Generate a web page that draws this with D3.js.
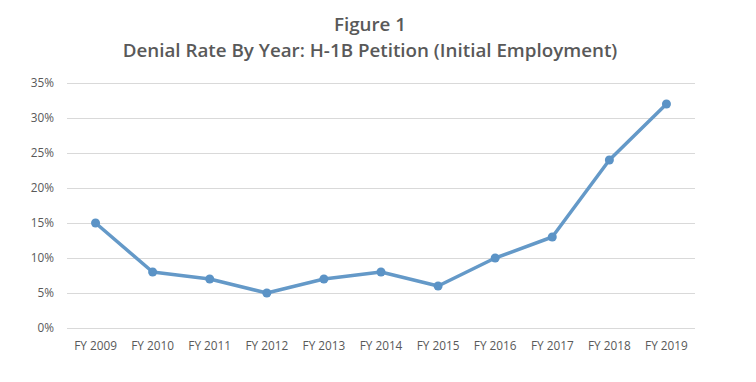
<!DOCTYPE html>
<html>
<head>
<meta charset="utf-8">
<script src="https://cdn.jsdelivr.net/npm/d3@7"></script>
<style>
  body { margin: 0; background: #fff; }
  svg { display: block; }
</style>
</head>
<body>
<svg id="chart" width="756" height="382"></svg>
<script>
const years = ["FY 2009", "FY 2010", "FY 2011", "FY 2012", "FY 2013", "FY 2014",
               "FY 2015", "FY 2016", "FY 2017", "FY 2018", "FY 2019"]
const denialRate = [15, 8, 7, 5, 7, 8, 6, 10, 13, 24, 32]
const yTicks = [0, 5, 10, 15, 20, 25, 30, 35]
const titleLines = ["Figure 1", "Denial Rate By Year: H-1B Petition (Initial Employment)"]

const svg = d3.select("#chart")
const margin = {top: 83, right: 61, bottom: 54, left: 67}
const width = 756, height = 382
const textColor = "#595959"
const font = "'Open Sans', sans-serif"

const xScale = d3.scaleBand()
  .domain(years)
  .range([margin.left, width - margin.right])

const yScale = d3.scaleLinear()
  .domain([0, 35])
  .range([height - margin.bottom, margin.top])

// titles
svg.selectAll(".title")
  .data(titleLines)
  .enter()
  .append("text")
  .attr("class", "title")
  .attr("x", 370)
  .attr("y", (d, i) => 31 + i * 26)
  .attr("text-anchor", "middle")
  .attr("font-family", font)
  .attr("font-weight", 600)
  .attr("font-size", "18.8px")
  .attr("fill", textColor)
  .text(d => d)

// gridlines + y labels
const yAxis = d3.axisLeft(yScale)
  .tickValues(yTicks)
  .tickFormat(d => d + "%")
  .tickSize(-(width - margin.left - margin.right))
  .tickPadding(13)

svg.append("g")
  .attr("transform", "translate(" + margin.left + ",0)")
  .call(yAxis)
  .call(g => g.select(".domain").remove())
  .call(g => g.selectAll("line").attr("stroke", "#d9d9d9").attr("stroke-width", 1.2))
  .call(g => g.selectAll("text")
    .attr("fill", textColor)
    .attr("font-family", font)
    .attr("font-size", "11.8px"))

const xAxis = d3.axisBottom(xScale).tickSize(0).tickPadding(14)

svg.append("g")
  .attr("transform", "translate(0," + (height - margin.bottom) + ")")
  .call(xAxis)
  .call(g => g.select(".domain").remove())
  .call(g => g.selectAll("text")
    .attr("fill", textColor)
    .attr("font-family", font)
    .attr("font-size", "11.8px"))

const cx = d => xScale(d) + xScale.bandwidth() / 2

const line = d3.line()
  .x((d, i) => cx(years[i]))
  .y(d => yScale(d))

svg.append("path")
  .datum(denialRate)
  .attr("d", line)
  .attr("fill", "none")
  .attr("stroke", "#6499c8")
  .attr("stroke-width", 3.5)
  .attr("stroke-linejoin", "round")

svg.selectAll(".dot")
  .data(denialRate)
  .enter()
  .append("circle")
  .attr("class", "dot")
  .attr("cx", (d, i) => cx(years[i]))
  .attr("cy", d => yScale(d))
  .attr("r", 4.5)
  .attr("fill", "#5b93c6")
</script>
</body>
</html>
